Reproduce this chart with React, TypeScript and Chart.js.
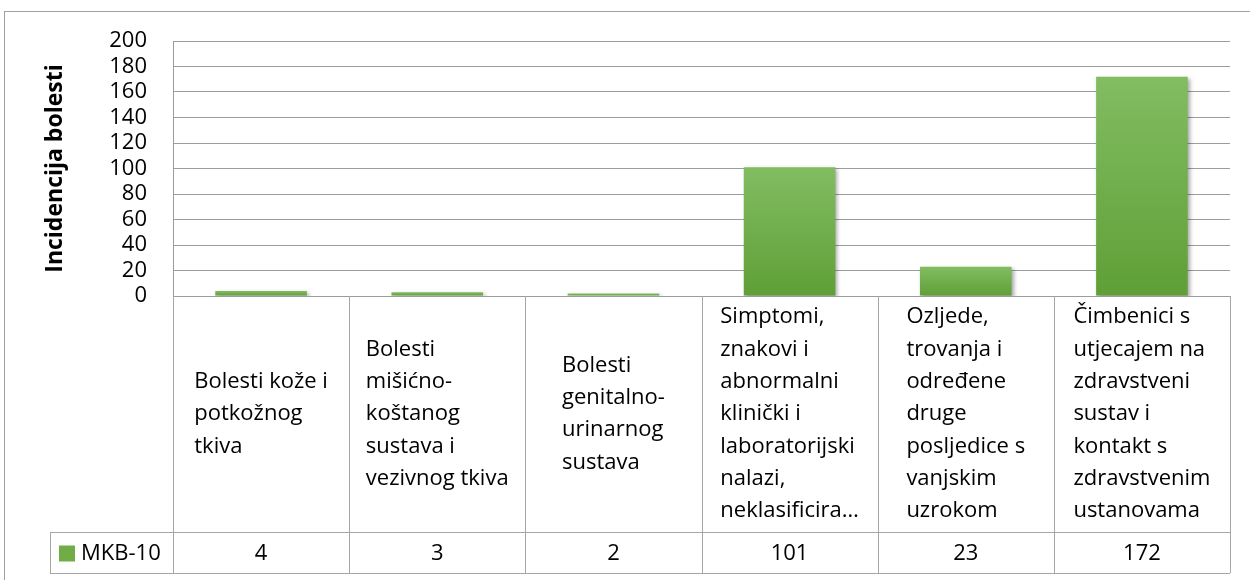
import React, { useEffect, useRef } from "react";
import { Chart, registerables } from "chart.js";

Chart.register(...registerables);

// ---- data ----
const categories: string[][] = [
  ["Bolesti kože i", "potkožnog", "tkiva"],
  ["Bolesti", "mišićno-", "koštanog", "sustava i", "vezivnog tkiva"],
  ["Bolesti", "genitalno-", "urinarnog", "sustava"],
  ["Simptomi,", "znakovi i", "abnormalni", "klinički i", "laboratorijski", "nalazi,", "neklasificira…"],
  ["Ozljede,", "trovanja i", "određene", "druge", "posljedice s", "vanjskim", "uzrokom"],
  ["Čimbenici s", "utjecajem na", "zdravstveni", "sustav i", "kontakt s", "zdravstvenim", "ustanovama"],
];
const seriesName = "MKB-10";
const values: number[] = [4, 3, 2, 101, 23, 172];
const yMin = 0;
const yMax = 200;
const yStep = 20;
const yTitle = "Incidencija bolesti";

// ---- style ----
const FONT = "'Open Sans', 'DejaVu Sans', sans-serif";
const TEXT_SIZE = 22;
const LINE_H = 32.3;
const GRID = "#9c9c9c";
const TABLE_LINE = "#a6a6a6";
const GREEN = "#70ad47";
const GREEN_TOP = "#82bd62";
const GREEN_BOTTOM = "#5f9f36";

const W = 1250;
const H = 580;

const tablePlugin = {
  id: "dataTable",
  beforeDatasetsDraw(chart: any) {
    const ctx = chart.ctx;
    ctx.save();
    ctx.shadowColor = "rgba(0,0,0,0.35)";
    ctx.shadowBlur = 4;
    ctx.shadowOffsetX = 2;
    ctx.shadowOffsetY = 2;
  },
  afterDatasetsDraw(chart: any) {
    chart.ctx.restore();
  },
  afterDraw(chart: any) {
    const ctx = chart.ctx;
    const x = chart.scales.x;
    const area = chart.chartArea;
    const n = categories.length;
    const colW = (area.right - area.left) / n;
    const top = area.bottom;
    const headBottom = top + 236;
    const rowBottom = headBottom + 41;
    const legendLeft = 50;

    ctx.save();
    // outer chart border
    ctx.strokeStyle = "#a0a0a0";
    ctx.lineWidth = 1;
    ctx.strokeRect(4.5, 11.5, W + 100, H + 100);

    // table lines
    ctx.strokeStyle = TABLE_LINE;
    ctx.lineWidth = 1;
    ctx.beginPath();
    for (let i = 0; i <= n; i++) {
      const xx = Math.round(area.left + i * colW) + 0.5;
      ctx.moveTo(xx, top);
      ctx.lineTo(xx, rowBottom);
    }
    ctx.moveTo(legendLeft, Math.round(headBottom) + 0.5);
    ctx.lineTo(area.right, Math.round(headBottom) + 0.5);
    ctx.moveTo(legendLeft, Math.round(rowBottom) + 0.5);
    ctx.lineTo(area.right, Math.round(rowBottom) + 0.5);
    ctx.moveTo(legendLeft + 0.5, headBottom);
    ctx.lineTo(legendLeft + 0.5, rowBottom);
    ctx.stroke();

    // header labels
    ctx.fillStyle = "#000";
    ctx.font = `${TEXT_SIZE}px ${FONT}`;
    ctx.textBaseline = "middle";
    ctx.textAlign = "left";
    for (let i = 0; i < n; i++) {
      const cx = x.getPixelForValue(i);
      const lines = categories[i];
      const maxW = Math.max(...lines.map((l) => ctx.measureText(l).width));
      const startX = cx - maxW / 2;
      const blockH = lines.length * LINE_H;
      const cy = (top + headBottom) / 2;
      let y = cy - blockH / 2 + LINE_H / 2;
      for (const l of lines) {
        ctx.fillText(l, startX, y);
        y += LINE_H;
      }
    }
    // values row
    ctx.textAlign = "center";
    const rowMid = (headBottom + rowBottom) / 2 + 1;
    for (let i = 0; i < n; i++) {
      ctx.fillText(String(values[i]), x.getPixelForValue(i), rowMid);
    }
    // legend
    ctx.fillStyle = GREEN;
    ctx.fillRect(59, rowMid - 8, 16, 16);
    ctx.fillStyle = "#000";
    ctx.textAlign = "left";
    ctx.fillText(seriesName, 81, rowMid);
    ctx.restore();
  },
};

export default function App() {
  const ref = useRef<HTMLCanvasElement | null>(null);
  useEffect(() => {
    if (!ref.current) return;
    const chart = new Chart(ref.current, {
      type: "bar",
      data: {
        labels: categories.map((c) => c.join(" ")),
        datasets: [
          {
            label: seriesName,
            data: values,
            barPercentage: 0.52,
            categoryPercentage: 1,
            borderWidth: 0,
            backgroundColor: (c: any) => {
              const chart = c.chart;
              const ys = chart.scales && chart.scales.y;
              if (!ys || c.dataIndex === undefined) return GREEN;
              const t = ys.getPixelForValue(values[c.dataIndex]);
              const b = ys.getPixelForValue(0);
              if (!isFinite(t) || !isFinite(b) || t === b) return GREEN;
              const g = chart.ctx.createLinearGradient(0, t, 0, b);
              g.addColorStop(0, GREEN_TOP);
              g.addColorStop(1, GREEN_BOTTOM);
              return g;
            },
          },
        ],
      },
      options: {
        animation: false,
        responsive: false,
        devicePixelRatio: 1,
        layout: { padding: { left: 0, top: 41, right: 20, bottom: H - 296 } },
        plugins: {
          legend: { display: false },
          tooltip: { enabled: false },
        },
        scales: {
          x: { display: false },
          y: {
            min: yMin,
            max: yMax,
            ticks: {
              stepSize: yStep,
              autoSkip: false,
              padding: 26,
              color: "#000",
              font: { family: FONT, size: TEXT_SIZE },
            },
            grid: { color: GRID, drawTicks: false, lineWidth: 1 },
            border: { display: true, color: GRID },
            title: {
              display: true,
              text: yTitle,
              color: "#000",
              font: { family: FONT, size: 23, weight: "bold" },
              padding: { top: 42, bottom: 0 },
            },
            afterFit: (s: any) => {
              s.width = 173;
            },
          },
        },
      },
      plugins: [tablePlugin],
    });
    return () => chart.destroy();
  }, []);
  return (
    <div style={{ position: "absolute", left: 0, top: 0, width: W, height: H, background: "#fff" }}>
      <canvas ref={ref} width={W} height={H} style={{ width: W, height: H, display: "block" }} />
    </div>
  );
}
